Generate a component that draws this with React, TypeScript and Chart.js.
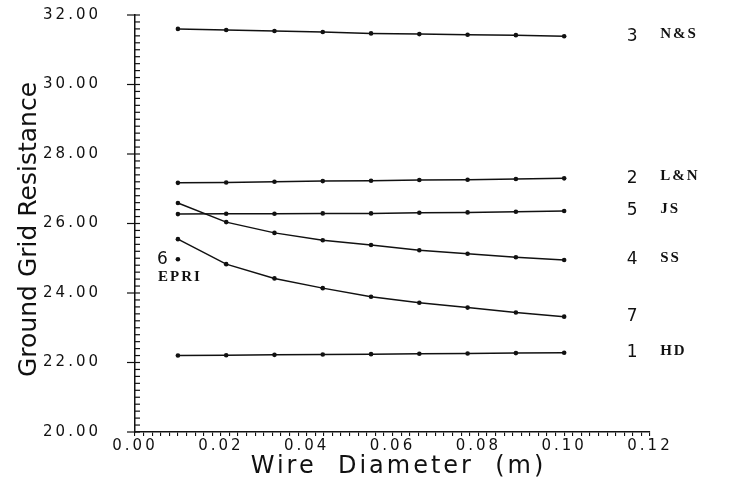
import React, { useEffect, useRef } from 'react';
import { Chart, registerables } from 'chart.js';

Chart.register(...registerables);

// Wire diameters (m) where each curve is sampled
const xValues = [0.01, 0.02125, 0.0325, 0.04375, 0.055, 0.06625, 0.0775, 0.08875, 0.1];

// Ground grid resistance for each method
const hdValues = [22.2, 22.21, 22.22, 22.23, 22.24, 22.25, 22.26, 22.27, 22.28];
const lnValues = [27.17, 27.18, 27.2, 27.22, 27.23, 27.25, 27.26, 27.28, 27.3];
const nsValues = [31.6, 31.57, 31.54, 31.51, 31.47, 31.45, 31.43, 31.42, 31.39];
const ssValues = [26.59, 26.04, 25.73, 25.52, 25.38, 25.23, 25.13, 25.03, 24.95];
const jsValues = [26.27, 26.28, 26.28, 26.29, 26.29, 26.31, 26.32, 26.34, 26.36];
const c7Values = [25.55, 24.83, 24.42, 24.14, 23.89, 23.72, 23.58, 23.44, 23.32];

const seriesValues = [hdValues, lnValues, nsValues, ssValues, jsValues, c7Values];
const seriesNumbers = ['1', '2', '3', '4', '5', '7'];
const seriesNames = ['HD', 'L&N', 'N&S', 'SS', 'JS', ''];

// Single EPRI point (curve 6)
const epriX = [0.01];
const epriY = [24.97];
const epriNumber = '6';
const epriName = 'EPRI';

const xTickLabels = ['0.00', '0.02', '0.04', '0.06', '0.08', '0.10', '0.12'];
const yTickLabels = ['20.00', '22.00', '24.00', '26.00', '28.00', '30.00', '32.00'];

const xTitle = 'Wire  Diameter  (m)';
const yTitle = 'Ground Grid Resistance';

const INK = '#111';

const decorPlugin = {
  id: 'decor',
  beforeDraw(chart: any) {
    chart.ctx.letterSpacing = '3px';
  },
  afterDraw(chart: any) {
    const ctx = chart.ctx;
    const area = chart.chartArea;
    const ys = chart.scales.y;
    ctx.save();
    ctx.letterSpacing = '0px';
    ctx.strokeStyle = INK;
    ctx.lineWidth = 1.2;
    // y-axis tick marks: minor inward, major also outward
    ys.ticks.forEach((t: any) => {
      const py = ys.getPixelForValue(t.value);
      const major = yTickLabels.includes(Number(t.value).toFixed(2));
      ctx.beginPath();
      ctx.moveTo(area.left - (major ? 8 : 0), py);
      ctx.lineTo(area.left + 5, py);
      ctx.stroke();
    });

    // series labels at right end of each curve
    ctx.fillStyle = INK;
    ctx.textBaseline = 'middle';
    seriesValues.forEach((_, i) => {
      const meta = chart.getDatasetMeta(i);
      const last = meta.data[meta.data.length - 1];
      if (!last) return;
      ctx.font = '17px "DejaVu Sans"';
      ctx.letterSpacing = '0px';
      ctx.textAlign = 'center';
      ctx.fillText(seriesNumbers[i], last.x + 68, last.y);
      if (seriesNames[i]) {
        ctx.font = 'bold 15px "Liberation Serif"';
        ctx.letterSpacing = '2px';
        ctx.textAlign = 'left';
        ctx.fillText(seriesNames[i], last.x + 96, last.y - 2);
      }
    });

    // EPRI point labels
    const em = chart.getDatasetMeta(seriesValues.length);
    const ep = em.data[0];
    if (ep) {
      ctx.font = '17px "DejaVu Sans"';
      ctx.letterSpacing = '0px';
      ctx.textAlign = 'right';
      ctx.fillText(epriNumber, ep.x - 10, ep.y);
      ctx.font = 'bold 15px "Liberation Serif"';
      ctx.letterSpacing = '2px';
      ctx.textAlign = 'center';
      ctx.fillText(epriName, ep.x + 2, ep.y + 18);
    }

    // axis titles
    ctx.font = '25px "DejaVu Sans"';
    ctx.letterSpacing = '0px';
    ctx.textAlign = 'center';
    ctx.textBaseline = 'middle';
    ctx.save();
    ctx.translate(29, (area.top + area.bottom) / 2 + 6);
    ctx.rotate(-Math.PI / 2);
    ctx.fillText(yTitle, 0, 0);
    ctx.restore();
    ctx.font = '24px "DejaVu Sans"';
    ctx.letterSpacing = '3px';
    ctx.fillText(xTitle, (area.left + area.right) / 2 + 6, 467);
    ctx.restore();
  },
};

export default function App() {
  const canvasRef = useRef<HTMLCanvasElement | null>(null);

  useEffect(() => {
    if (!canvasRef.current) return;
    const datasets: any[] = seriesValues.map((vals, i) => ({
      label: seriesNumbers[i] + ' ' + seriesNames[i],
      data: xValues.map((x, j) => ({ x, y: vals[j] })),
      showLine: true,
      borderColor: INK,
      backgroundColor: INK,
      borderWidth: 1.5,
      pointRadius: 2.3,
      pointBorderWidth: 0,
      tension: 0,
    }));
    datasets.push({
      label: epriNumber + ' ' + epriName,
      data: epriX.map((x, j) => ({ x, y: epriY[j] })),
      showLine: false,
      borderColor: INK,
      backgroundColor: INK,
      pointRadius: 2.3,
      pointBorderWidth: 0,
    });

    const tickFont = { family: '"DejaVu Sans"', size: 15 };

    const chart = new Chart(canvasRef.current, {
      type: 'scatter',
      data: { datasets },
      options: {
        responsive: false,
        animation: false,
        devicePixelRatio: 1,
        layout: { padding: { top: 15, right: 85, left: 0, bottom: 0 } },
        plugins: { legend: { display: false }, tooltip: { enabled: false } },
        scales: {
          x: {
            type: 'linear',
            min: 0,
            max: 0.12,
            afterFit: (s: any) => {
              s.height = 48;
              s.paddingLeft = 0;
              s.paddingRight = 0;
            },
            border: { display: true, color: INK, width: 1.5 },
            grid: {
              display: true,
              drawOnChartArea: false,
              drawTicks: true,
              tickLength: 4,
              color: INK,
              lineWidth: 1.1,
            },
            ticks: {
              stepSize: 0.002,
              autoSkip: false,
              maxRotation: 0,
              minRotation: 0,
              padding: 1,
              color: INK,
              font: tickFont,
              callback: (v: any) => {
                const s = Number(v).toFixed(2);
                const k = Math.round(Number(v) * 1000);
                return k % 20 === 0 && xTickLabels.includes(s) ? s : '';
              },
            },
          },
          y: {
            type: 'linear',
            min: 20,
            max: 32,
            afterFit: (s: any) => {
              s.width = 135;
              s.paddingTop = 0;
              s.paddingBottom = 0;
            },
            border: { display: true, color: INK, width: 1.5 },
            grid: { display: false },
            ticks: {
              stepSize: 0.2,
              autoSkip: false,
              padding: 26,
              color: INK,
              font: tickFont,
              callback: (v: any) => {
                const s = Number(v).toFixed(2);
                return yTickLabels.includes(s) && Math.abs(Number(v) - Number(s)) < 1e-6 ? s : '';
              },
            },
          },
        },
      },
      plugins: [decorPlugin],
    } as any);

    return () => chart.destroy();
  }, []);

  return (
    <div style={{ position: 'absolute', left: 0, top: 0, width: 735, height: 480, background: '#fff' }}>
      <canvas ref={canvasRef} width={735} height={480} style={{ width: 735, height: 480 }} />
    </div>
  );
}
